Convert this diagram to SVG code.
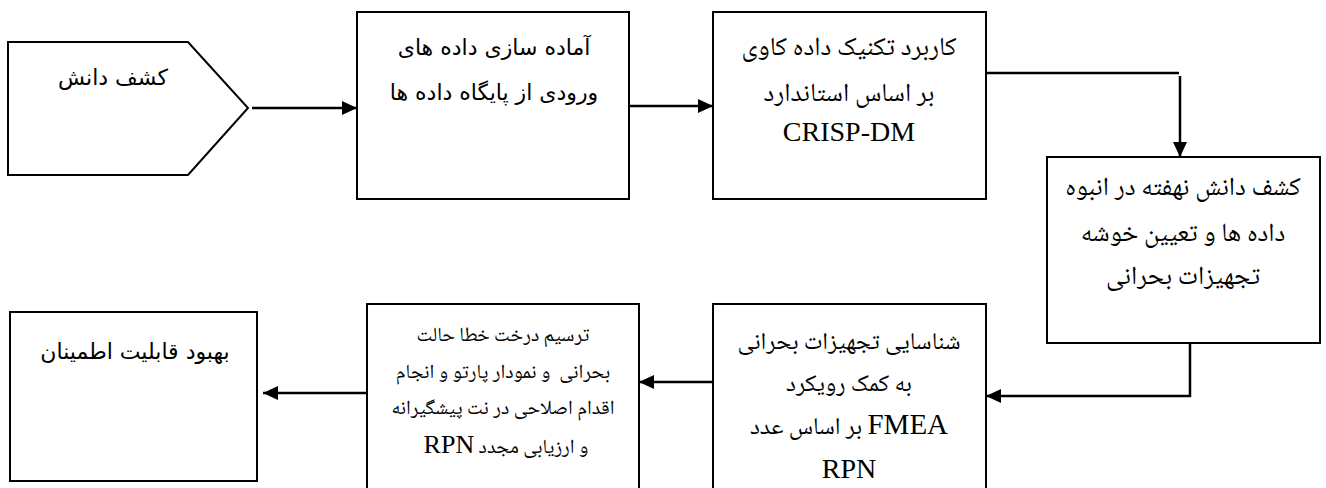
<svg xmlns="http://www.w3.org/2000/svg" width="1326" height="488" viewBox="0 0 1326 488">
<defs>
<style>
.box{fill:#fff;stroke:#000;stroke-width:2}
.con{fill:none;stroke:#000;stroke-width:2.5}
.sans{font-family:"DejaVu Sans","Noto Sans Arabic",sans-serif;font-size:22px;fill:#000;text-anchor:middle}
.nask{font-family:"Noto Naskh Arabic","Noto Serif","DejaVu Sans",serif;font-size:26px;fill:#000;text-anchor:middle}
.lat{font-family:"Liberation Serif","Times New Roman",serif;font-size:28px;fill:#000;text-anchor:middle}
</style>
<marker id="ah" markerUnits="userSpaceOnUse" markerWidth="16" markerHeight="14" refX="15" refY="7" orient="auto">
<path d="M0,0 L15,7 L0,14 Z" fill="#000"/>
</marker>
</defs>
<rect width="1326" height="488" fill="#fff"/>
<g id="connectors">
<line class="con" x1="252" y1="108" x2="357" y2="108" marker-end="url(#ah)"/>
<line class="con" x1="629" y1="106" x2="713" y2="106" marker-end="url(#ah)"/>
<line class="con" x1="986" y1="73" x2="1179" y2="73"/>
<line class="con" x1="1180" y1="76" x2="1180" y2="157" marker-end="url(#ah)"/>
<polyline class="con" points="1190,343 1190,396 986,396" marker-end="url(#ah)"/>
<line class="con" x1="713" y1="382" x2="639" y2="382" marker-end="url(#ah)"/>
<line class="con" x1="367" y1="393" x2="263" y2="393" marker-end="url(#ah)"/>
</g>
<g id="n1">
<polygon class="box" points="8,42 188,42 248,108 188,175 8,175"/>
<text class="sans" x="113" y="85" direction="rtl">کشف دانش</text>
</g>
<g id="n2">
<rect class="box" x="357" y="12" width="272" height="187"/>
<text class="sans" x="494" y="55" direction="rtl">آماده سازی داده های</text>
<text class="sans" x="494" y="100" direction="rtl">ورودی از پایگاه داده ها</text>
</g>
<g id="n3">
<rect class="box" x="713" y="12" width="273" height="187"/>
<text class="nask" x="849" y="55" direction="rtl">کاربرد تکنیک داده کاوی</text>
<text class="nask" x="849" y="101" direction="rtl">بر اساس استاندارد</text>
<text class="lat" x="849" y="141">CRISP-DM</text>
</g>
<g id="n4">
<rect class="box" x="1047" y="157" width="273" height="186"/>
<text class="nask" x="1183" y="195" direction="rtl">کشف دانش نهفته در انبوه</text>
<text class="nask" x="1183" y="241" direction="rtl">داده ها و تعیین خوشه</text>
<text class="nask" x="1183" y="284" direction="rtl">تجهیزات بحرانی</text>
</g>
<g id="n5">
<rect class="box" x="713" y="304" width="273" height="200"/>
<text class="nask" x="849" y="349" direction="rtl" style="font-size:24px">شناسایی تجهیزات بحرانی</text>
<text class="nask" x="849" y="391" direction="rtl" style="font-size:24px">به کمک رویکرد</text>
<text class="nask" x="849" y="434" direction="rtl" style="font-size:24px"><tspan class="lat" style="font-size:29px">FMEA</tspan> بر اساس عدد</text>
<text class="lat" x="849" y="478">RPN</text>
</g>
<g id="n6">
<rect class="box" x="367" y="304" width="272" height="200"/>
<text class="nask" x="503" y="341" direction="rtl" style="font-size:20px">ترسیم درخت خطا حالت</text>
<text class="nask" x="503" y="378" direction="rtl" style="font-size:20px;white-space:pre">بحرانی  و نمودار پارتو و انجام</text>
<text class="nask" x="503" y="414" direction="rtl" style="font-size:20px">اقدام اصلاحی در نت پیشگیرانه</text>
<text class="nask" x="506" y="453" direction="rtl" style="font-size:20px">و ارزیابی مجدد <tspan class="lat" style="font-size:26px">RPN</tspan></text>
</g>
<g id="n7">
<rect class="box" x="10" y="312" width="247" height="169"/>
<text class="sans" x="135" y="359" direction="rtl">بهبود قابلیت اطمینان</text>
</g>
</svg>
